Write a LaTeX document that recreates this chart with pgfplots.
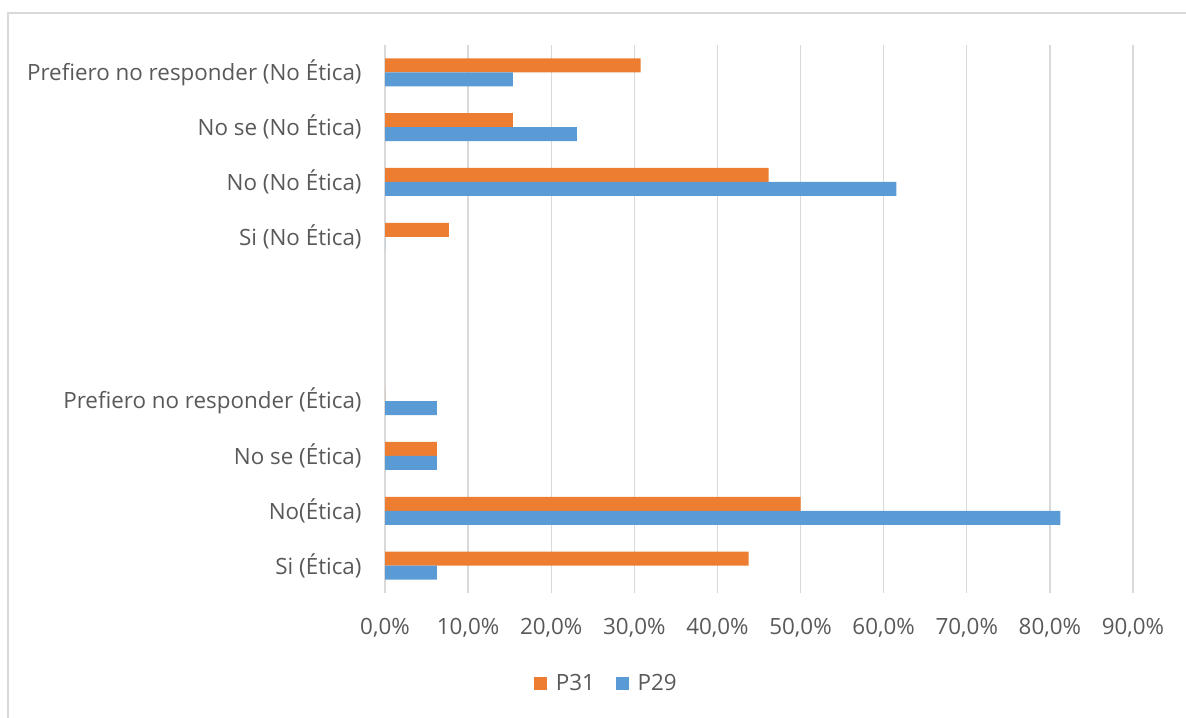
\documentclass[border=0pt]{standalone}
\usepackage{pgfplots}
\pgfplotsset{compat=1.18}
\usepackage{pgfplotstable}
\usepackage{fontspec}
\setmainfont{Open Sans}

\definecolor{cOrange}{HTML}{ED7D31}
\definecolor{cBlue}{HTML}{5B9BD5}
\definecolor{cGrid}{HTML}{D9D9D9}
\definecolor{cText}{HTML}{595959}
\definecolor{cFrame}{HTML}{D9D9D9}

% position: 0 = Si (Ética) ... 9 = Prefiero no responder (No Ética); 4 and 5 are spacers
\pgfplotstableread{
pos val
0 43.75
1 50.00
2 6.25
3 0
6 7.69
7 46.15
8 15.38
9 30.77
}\pthirtyone
\pgfplotstableread{
pos val
0 6.25
1 81.25
2 6.25
3 6.25
6 0
7 61.54
8 23.08
9 15.38
}\ptwentynine

\newcommand{\lblfont}{\fontsize{11.2bp}{13.4bp}\selectfont}

\begin{document}
\lblfont
\begin{tikzpicture}
\useasboundingbox (0,0) rectangle (593bp,359bp);
\draw[cFrame, line width=1bp] (4bp,0) -- (4bp,352.5bp) -- (593bp,352.5bp);
\begin{axis}[
  at={(192.5bp,62.5bp)}, anchor=south west,
  scale only axis, width=374bp, height=274bp,
  xmin=0, xmax=90, ymin=-0.5, ymax=9.5,
  xbar=0pt, bar width=7bp,
  axis line style={draw=none},
  major tick length=0pt,
  xtick={0,10,...,90},
  xticklabels={{0,0\%},{10,0\%},{20,0\%},{30,0\%},{40,0\%},{50,0\%},{60,0\%},{70,0\%},{80,0\%},{90,0\%}},
  ytick={0,...,9},
  yticklabels={Si (Ética),No(Ética),No se (Ética),Prefiero no responder (Ética),{},{},Si (No Ética),No (No Ética),No se (No Ética),Prefiero no responder (No Ética)},
  xmajorgrids, grid style={cGrid, line width=0.7bp},
  ticklabel style={text=cText, font=\lblfont},
  yticklabel style={anchor=east, inner sep=0pt, xshift=-11.5bp},
  xticklabel style={anchor=north, inner sep=0pt, yshift=-12.5bp},
  legend columns=2,
  legend style={at={(0.2975,-0.166)}, anchor=center, draw=none, fill=none,
    text=cText, font=\lblfont,
    inner sep=0pt,
    /tikz/every odd column/.append style={column sep=2.3bp},
    /tikz/every even column/.append style={column sep=8.5bp}},
  legend image code/.code={\fill[#1] (0bp,-3.25bp) rectangle (6.5bp,3.25bp);},
]
\addplot[fill=cOrange, draw=none, bar shift=3.5bp] table[x=val, y=pos] {\pthirtyone};
\addlegendentry{P31}
\addplot[fill=cBlue, draw=none, bar shift=-3.5bp] table[x=val, y=pos] {\ptwentynine};
\addlegendentry{P29}
\end{axis}
\end{tikzpicture}
\end{document}
